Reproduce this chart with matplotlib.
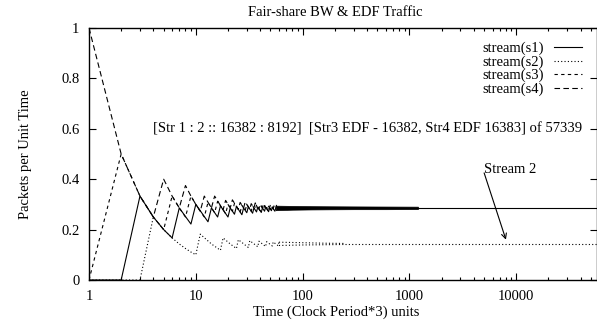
import matplotlib
matplotlib.use("Agg")
import matplotlib.pyplot as plt

plt.rcParams['font.family'] = ['Liberation Serif', 'DejaVu Serif']
plt.rcParams['font.size'] = 10.5

# ---- data ----
title = "Fair-share BW & EDF Traffic"
xlabel = "Time (Clock Period*3) units"
ylabel = "Packets per Unit Time"
labels = ["stream(s1)", "stream(s2)", "stream(s3)", "stream(s4)"]
note = "[Str 1 : 2 :: 16382 : 8192]  [Str3 EDF - 16382, Str4 EDF 16383] of 57339"

s1_t = [1, 2, 3, 4, 5, 6, 7, 9, 10, 13, 14, 16, 17, 20, 21, 23, 24, 27, 28, 30, 31,
        34, 35, 37, 38, 41, 42, 44, 45, 48, 49, 51, 52, 55, 56]
s1_v = [0, 0, .333, .25, .2, .167, .286, .222, .3, .231, .286, .25, .294, .25, .286,
        .261, .292, .259, .286, .267, .290, .265, .286, .270, .289, .268, .286, .273,
        .289, .271, .286, .275, .288, .273, .286]

s2_t = [1, 2, 3, 4, 5, 6, 7, 8, 9, 10, 11, 14, 17, 18, 21, 24, 25, 31, 32, 38, 39,
        45, 46, 52, 53, 59, 60]
s2_v = [0, 0, 0, .25, .2, .167, .143, .125, .111, .1, .182, .143, .118, .167, .143,
        .125, .16, .129, .156, .132, .154, .133, .152, .135, .151, .136, .15]

s3_t = [1, 2, 3, 4, 5, 6, 7, 8, 9, 10, 11, 12, 13, 15, 16, 19, 20, 22, 23, 26, 27,
        29, 30, 33, 34, 36, 37, 40, 41, 43, 44, 47, 48, 50, 51, 54, 55]
s3_v = [0, .5, .333, .25, .2, .333, .286, .25, .333, .3, .273, .25, .308, .267, .3125,
        .263, .3, .273, .304, .269, .296, .276, .3, .273, .294, .278, .297, .275, .293,
        .279, .295, .277, .292, .28, .294, .278, .291]

s4_t = [1, 2, 3, 4, 5, 6, 7, 8, 9, 10, 11, 12, 14, 15, 18, 19, 21, 22, 25, 26, 28,
        29, 32, 33, 35, 36, 39, 40, 42, 43, 46, 47, 49, 50, 53, 54, 56, 57]
s4_v = [1, .5, .333, .25, .4, .333, .286, .375, .333, .3, .273, .333, .286, .333, .278,
        .316, .286, .318, .28, .308, .286, .31, .281, .303, .286, .306, .282, .3, .286,
        .302, .283, .298, .286, .3, .283, .296, .286, .298]

# dense oscillation band of s1/s3/s4 (lower / upper edge)
band_t = [56, 80, 120, 180, 300, 600, 1200]
band_lo = [.277, .279, .280, .2805, .281, .281, .2815]
band_hi = [.295, .294, .293, .2925, .292, .2915, .291]

# dense oscillation of s2
s2band_t = [60, 100, 160, 250]
s2band_lo = [.137, .139, .140, .141]
s2band_hi = [.150, .148, .146, .145]

# steady-state tails
tail_t = [1200, 57339]
tail_s134 = [.2865, .2865]
s2tail_t = [250, 57339]
s2tail_v = [.143, .143]

arrow_from = (5000, 0.425)
arrow_to = (8000, 0.16)

# ---- figure ----
W, H = 597, 320
fig = plt.figure(figsize=(W / 100, H / 100), dpi=100)
ax = fig.add_axes([89 / W, 40 / H, 508.3 / W, 252 / H])

lw = 0.8
st_s1 = '-'
st_s2 = (0, (1, 2))
st_s3 = (0, (3, 3))
st_s4 = (0, (5, 3))

ax.plot(s1_t, s1_v, color='black', lw=lw, ls=st_s1, label=labels[0])
ax.plot(s2_t, s2_v, color='black', lw=lw, ls=st_s2, label=labels[1])
ax.plot(s3_t, s3_v, color='black', lw=lw, ls=st_s3, label=labels[2])
ax.plot(s4_t, s4_v, color='black', lw=lw, ls=st_s4, label=labels[3])

ax.fill_between(band_t, band_lo, band_hi, color='black', lw=0.5)
ax.plot(s2band_t, s2band_lo, color='black', lw=lw, ls=st_s2)
ax.plot(s2band_t, s2band_hi, color='black', lw=lw, ls=st_s2)
ax.plot(tail_t, tail_s134, color='black', lw=lw, ls='-')
ax.plot(s2tail_t, s2tail_v, color='black', lw=lw, ls=st_s2)

ax.set_xscale('log')
ax.set_xlim(1, 57339)
ax.set_ylim(0, 1)
ax.set_xticks([1, 10, 100, 1000, 10000])
ax.set_xticklabels(['1', '10', '100', '1000', '10000'])
ax.set_yticks([0, 0.2, 0.4, 0.6, 0.8, 1])
ax.set_yticklabels(['0', '0.2', '0.4', '0.6', '0.8', '1'])
ax.tick_params(which='major', direction='in', top=True, right=True, length=5, width=0.8, pad=7)
ax.tick_params(which='minor', direction='in', top=True, right=True, length=2.5, width=0.8)
ax.tick_params(axis='y', which='major', pad=7)
for sp in ax.spines.values():
    sp.set_linewidth(1.0)

ax.text(4, 0.6, note, ha='left', va='center')
ax.text(5000, 0.44, "Stream 2", ha='left', va='center')
ax.annotate('', xy=arrow_to, xytext=arrow_from,
            arrowprops=dict(arrowstyle='->', lw=0.8, color='black',
                            shrinkA=0, shrinkB=0, mutation_scale=9))

leg = ax.legend(loc='upper right', bbox_to_anchor=(582 / W, 1 - 42 / H),
                bbox_transform=fig.transFigure, frameon=False, markerfirst=False,
                handlelength=1.9, handletextpad=0.7, labelspacing=0.0,
                borderpad=0, borderaxespad=0)
for t in leg.get_texts():
    t.set_ha('right')

fig.text(335 / W, 1 - 13 / H, title, ha='center', va='center')
fig.text(336 / W, 1 - 312 / H, xlabel, ha='center', va='center')
fig.text(25 / W, 1 - 154 / H, ylabel, ha='center', va='center', rotation=90)

fig.savefig('out.png', dpi=100)
